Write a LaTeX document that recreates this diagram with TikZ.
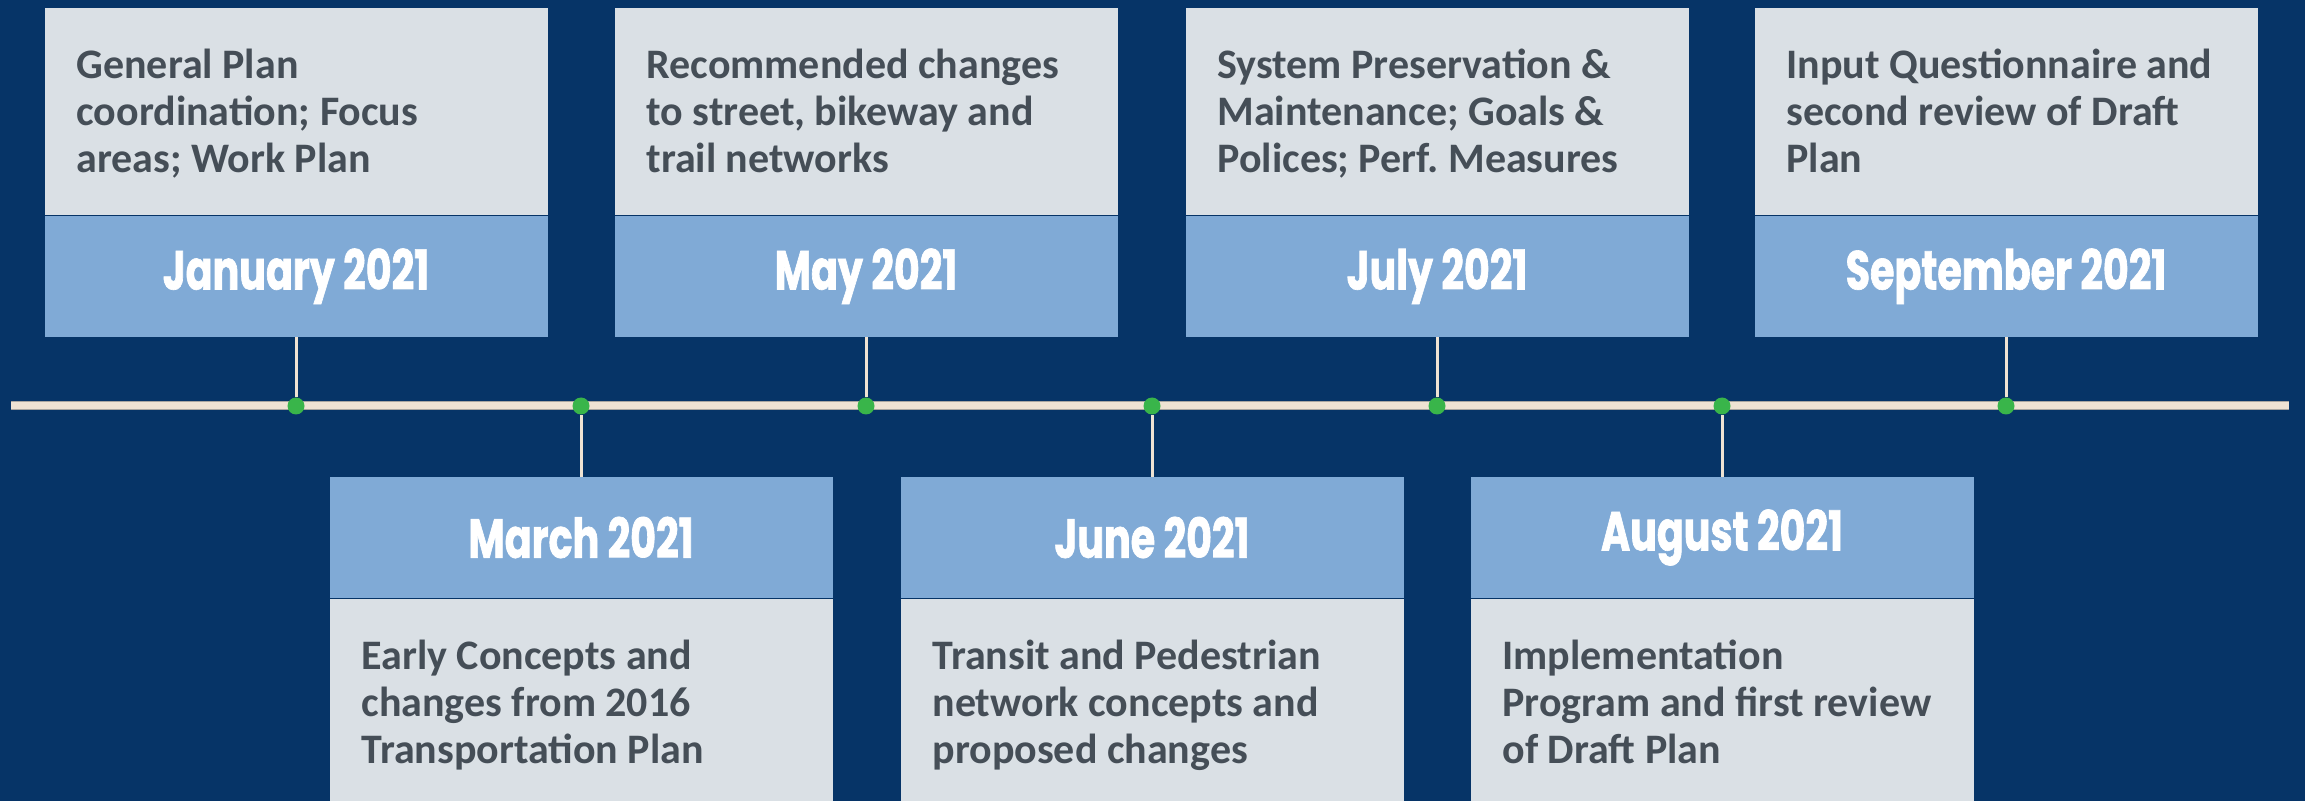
\documentclass[tikz,border=0pt]{standalone}
\usepackage{fontspec}
\setmainfont{Carlito}
\newfontfamily\datefont[FakeStretch=0.72,FakeBold=1.2]{Poppins}
\usetikzlibrary{positioning}

\definecolor{navy}{HTML}{063467}
\definecolor{boxgray}{HTML}{DAE0E5}
\definecolor{boxblue}{HTML}{80AAD6}
\definecolor{notegray}{HTML}{454E57}
\definecolor{railbeige}{HTML}{EFE3D3}
\definecolor{railedge}{HTML}{A9A6A0}
\definecolor{dotgreen}{HTML}{39B54A}

\begin{document}
\begin{tikzpicture}[x=0.5pt,y=-0.5pt,
  topnote/.style={fill=boxgray,minimum width=251.5pt,minimum height=103.5pt,
    inner sep=0pt},
  botnote/.style={fill=boxgray,minimum width=251.5pt,minimum height=101.5pt,
    inner sep=0pt},
  month/.style={fill=boxblue,minimum width=251.5pt,minimum height=60.5pt,
    inner sep=0pt,text=white,font=\datefont\bfseries\fontsize{27.5}{30}\selectfont},
  notetext/.style={anchor=base west,inner sep=0pt,align=left,text=notegray,
    font=\bfseries\fontsize{21}{23.6}\selectfont},
  stem/.style={draw=railbeige,line width=1.5pt},
  milestone/.style={circle,fill=dotgreen,minimum size=8.5pt,inner sep=0pt}]
  \useasboundingbox (0,0) rectangle (2305,801);
  \fill[navy] (0,0) rectangle (2305,801);

  % timeline
  \coordinate (L) at (11,406);
  \coordinate (R) at (2289,406);
  \draw[railedge,line width=4.5pt] (L) -- (R);
  \draw[railbeige,line width=3.5pt] (L) -- (R);

  % boxes above the line
  \node[topnote] (N1) at (296,111.5) {};
  \node[month,below=0pt of N1] (M1) {January 2021};
  \node[topnote] (N3) at (866,111.5) {};
  \node[month,below=0pt of N3] (M3) {May 2021};
  \node[topnote] (N5) at (1437,111.5) {};
  \node[month,below=0pt of N5] (M5) {July 2021};
  \node[topnote] (N7) at (2006,111.5) {};
  \node[month,below=0pt of N7] (M7) {September 2021};

  % boxes below the line
  \node[month] (M2) at (581,537.5) {March 2021};
  \node[botnote,below=0pt of M2] (N2) {};
  \node[month] (M4) at (1152,537.5) {June 2021};
  \node[botnote,below=0pt of M4] (N4) {};
  \node[month] (M6) at (1722,537.5) {August 2021};
  \node[botnote,below=0pt of M6] (N6) {};

  % texts (base anchor sits on the last of the three lines)
  \node[notetext] (T1) at ([shift={(32,165)}]N1.north west)
    {General Plan\\coordination; Focus\\areas; Work Plan};
  \node[notetext] (T2) at ([shift={(32,165)}]N2.north west)
    {Early Concepts and\\changes from 2016\\Transportation Plan};
  \node[notetext] (T3) at ([shift={(32,165)}]N3.north west)
    {Recommended changes\\to street, bikeway and\\trail networks};
  \node[notetext] (T4) at ([shift={(32,165)}]N4.north west)
    {Transit and Pedestrian\\network concepts and\\proposed changes};
  \node[notetext] (T5) at ([shift={(32,165)}]N5.north west)
    {System Preservation \&\\Maintenance; Goals \&\\Polices; Perf.\ Measures};
  \node[notetext] (T6) at ([shift={(32,165)}]N6.north west)
    {Implementation\\Program and first review\\of Draft Plan};
  \node[notetext] (T7) at ([shift={(32,165)}]N7.north west)
    {Input Questionnaire and\\second review of Draft\\Plan};

  % milestones on the line
  \node[milestone] (D1) at (296,406) {};
  \node[milestone] (D2) at (581,406) {};
  \node[milestone] (D3) at (866,406) {};
  \node[milestone] (D4) at (1152,406) {};
  \node[milestone] (D5) at (1437,406) {};
  \node[milestone] (D6) at (1722,406) {};
  \node[milestone] (D7) at (2006,406) {};

  \draw[stem] (M1.south) -- (D1.north);
  \draw[stem] (M2.north) -- (D2.south);
  \draw[stem] (M3.south) -- (D3.north);
  \draw[stem] (M4.north) -- (D4.south);
  \draw[stem] (M5.south) -- (D5.north);
  \draw[stem] (M6.north) -- (D6.south);
  \draw[stem] (M7.south) -- (D7.north);
\end{tikzpicture}
\end{document}
